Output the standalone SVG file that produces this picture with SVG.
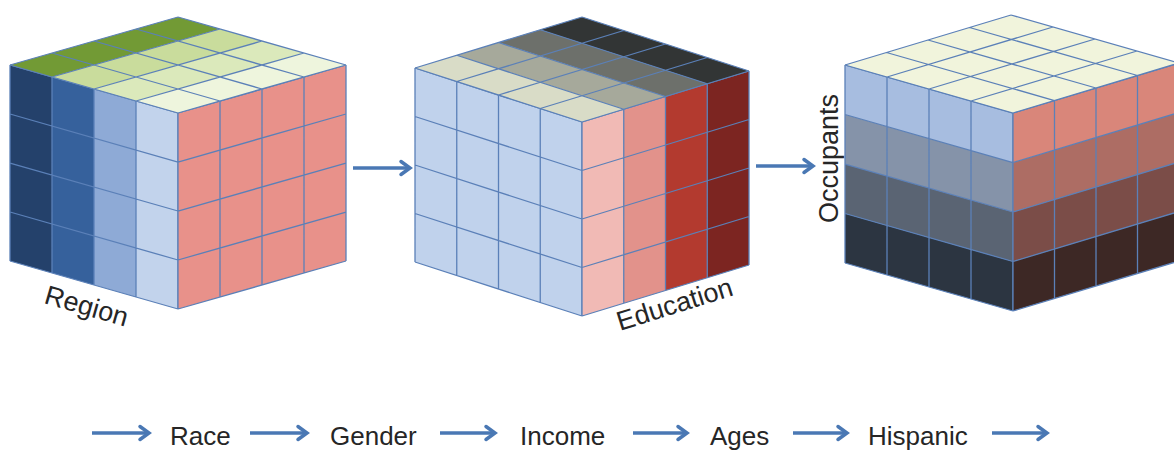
<svg xmlns="http://www.w3.org/2000/svg" width="1174" height="452" viewBox="0 0 1174 452">
<style>
.lbl{font-family:"Liberation Sans",Arial,sans-serif;fill:#262626}
.conn{fill:none;stroke:#4a78b4;stroke-width:3.5}
</style>
<defs>
<marker id="ah" markerUnits="userSpaceOnUse" markerWidth="16" markerHeight="18" refX="13" refY="9" orient="auto" viewBox="0 0 16 18">
<path d="M4,2.5 L13,9 L4,15.5" fill="none" stroke="#4a78b4" stroke-width="3.5" stroke-linecap="round" stroke-linejoin="miter"/>
</marker>
<path id="grid" d="M0,0V4M1,0V4M2,0V4M3,0V4M4,0V4M0,0H4M0,1H4M0,2H4M0,3H4M0,4H4" fill="none" stroke="#5b80b8" stroke-width="1.3" vector-effect="non-scaling-stroke"/>
</defs>
<rect width="1174" height="452" fill="#ffffff"/>

<g id="cube-region">
<g transform="matrix(42,12,0,49,10,65)">
<rect x="0" y="0" width="1" height="4" fill="#24416b"/>
<rect x="1" y="0" width="1" height="4" fill="#36619c"/>
<rect x="2" y="0" width="1" height="4" fill="#8eaad6"/>
<rect x="3" y="0" width="1" height="4" fill="#c2d3ec"/>
<use href="#grid"/>
</g>
<g transform="matrix(42,-12,0,49,178,113)">
<rect x="0" y="0" width="4" height="4" fill="#e8918a"/>
<use href="#grid"/>
</g>
<g transform="matrix(42,12,42,-12,10,65)">
<rect x="0" y="0" width="1" height="4" fill="#729a35"/>
<rect x="1" y="0" width="1" height="4" fill="#c9dc9c"/>
<rect x="2" y="0" width="1" height="4" fill="#dbe9bb"/>
<rect x="3" y="0" width="1" height="4" fill="#eef5dd"/>
<use href="#grid"/>
</g>
<text class="lbl" font-size="27" transform="translate(43,303) rotate(16)">Region</text>
</g>

<g id="cube-education">
<g transform="matrix(41.75,13.5,0,48.5,415,68)">
<rect x="0" y="0" width="4" height="4" fill="#c0d2ec"/>
<use href="#grid"/>
</g>
<g transform="matrix(41.75,-12.75,0,48.5,582,122)">
<rect x="0" y="0" width="1" height="4" fill="#f1bab5"/>
<rect x="1" y="0" width="1" height="4" fill="#e2928b"/>
<rect x="2" y="0" width="1" height="4" fill="#b33a2f"/>
<rect x="3" y="0" width="1" height="4" fill="#7c2521"/>
<use href="#grid"/>
</g>
<g transform="matrix(41.75,13.5,41.75,-12.75,415,68)">
<rect x="0" y="0" width="4" height="1" fill="#d9dcc7"/>
<rect x="0" y="1" width="4" height="1" fill="#a6a99b"/>
<rect x="0" y="2" width="4" height="1" fill="#6d706b"/>
<rect x="0" y="3" width="4" height="1" fill="#323535"/>
<use href="#grid"/>
</g>
<text class="lbl" font-size="27" transform="translate(620,331) rotate(-17.5)">Education</text>
</g>

<g id="cube-occupants">
<g transform="matrix(42,12,0,49.5,845,65)">
<rect x="0" y="0" width="4" height="1" fill="#a7bde0"/>
<rect x="0" y="1" width="4" height="1" fill="#8593a9"/>
<rect x="0" y="2" width="4" height="1" fill="#5a6473"/>
<rect x="0" y="3" width="4" height="1" fill="#2c3541"/>
<use href="#grid"/>
</g>
<g transform="matrix(41.5,-12.5,0,49.5,1013,113)">
<rect x="0" y="0" width="4" height="1" fill="#d9867a"/>
<rect x="0" y="1" width="4" height="1" fill="#ad6d64"/>
<rect x="0" y="2" width="4" height="1" fill="#7b4d48"/>
<rect x="0" y="3" width="4" height="1" fill="#3d2825"/>
<use href="#grid"/>
</g>
<g transform="matrix(42,12,41.5,-12.5,845,65)">
<rect x="0" y="0" width="4" height="4" fill="#f1f4dc"/>
<use href="#grid"/>
</g>
<text class="lbl" font-size="27" transform="translate(838,223) rotate(-90)">Occupants</text>
</g>

<g id="label-race"><text class="lbl" font-size="26" x="170" y="445">Race</text></g>
<g id="label-gender"><text class="lbl" font-size="26" x="330" y="445">Gender</text></g>
<g id="label-income"><text class="lbl" font-size="26" x="520" y="445">Income</text></g>
<g id="label-ages"><text class="lbl" font-size="26" x="710" y="445">Ages</text></g>
<g id="label-hispanic"><text class="lbl" font-size="26" x="868" y="445">Hispanic</text></g>

<g id="connectors">
<path class="conn" d="M353,168H410" marker-end="url(#ah)"/>
<path class="conn" d="M756,166H813" marker-end="url(#ah)"/>
<path class="conn" d="M92,433H149" marker-end="url(#ah)"/>
<path class="conn" d="M250,433H307" marker-end="url(#ah)"/>
<path class="conn" d="M440,433H495" marker-end="url(#ah)"/>
<path class="conn" d="M633,433H687" marker-end="url(#ah)"/>
<path class="conn" d="M793,433H847" marker-end="url(#ah)"/>
<path class="conn" d="M992,433H1047" marker-end="url(#ah)"/>
</g>
</svg>
